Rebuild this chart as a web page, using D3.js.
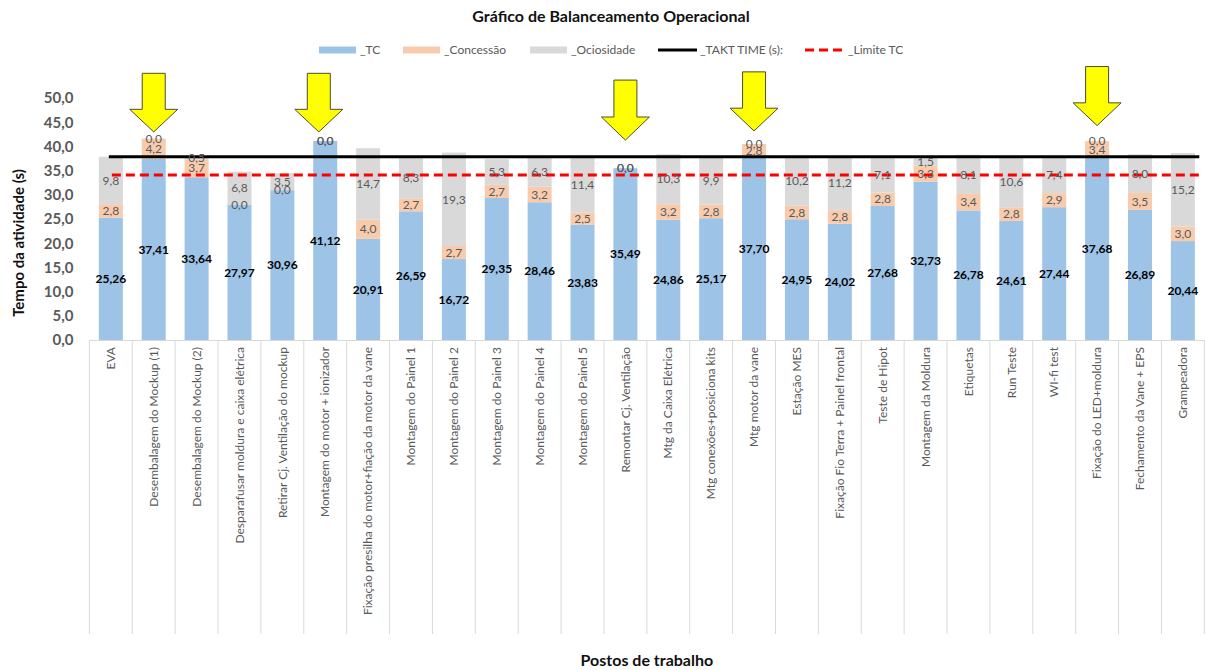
<!DOCTYPE html>
<html><head><meta charset="utf-8">
<script src="https://cdn.jsdelivr.net/npm/d3@7/dist/d3.min.js"></script>
<style>
html,body{margin:0;padding:0;background:#fff;}
svg{display:block;font-family:Lato,"Open Sans",sans-serif;}
</style></head>
<body><svg id="c" width="1206" height="670"></svg>
<script>
const stations = ["EVA","Desembalagem do Mockup (1)","Desembalagem do Mockup (2)","Desparafusar moldura e caixa elétrica","Retirar Cj. Ventilação do mockup","Montagem do motor + ionizador","Fixação presilha do motor+fiação da motor da vane","Montagem do Painel 1","Montagem do Painel 2","Montagem do Painel 3","Montagem do Painel 4","Montagem do Painel 5","Remontar Cj. Ventilação","Mtg da Caixa Elétrica","Mtg conexões+posiciona kits","Mtg motor da vane","Estação MES","Fixação Fio Terra + Painel frontal","Teste de Hipot","Montagem da Moldura","Etiquetas","Run Teste","WI-fi test","Fixação do LED+moldura","Fechamento da Vane + EPS","Grampeadora"];
const tc = [25.26,37.41,33.64,27.97,30.96,41.12,20.91,26.59,16.72,29.35,28.46,23.83,35.49,24.86,25.17,37.70,24.95,24.02,27.68,32.73,26.78,24.61,27.44,37.68,26.89,20.44];
const concessao = [2.8,4.2,3.7,0.0,0.0,0.0,4.0,2.7,2.7,2.7,3.2,2.5,0.0,3.2,2.8,2.8,2.8,2.8,2.8,3.3,3.4,2.8,2.9,3.4,3.5,3.0];
const ociosidade = [9.8,0.0,0.5,6.8,3.5,0.0,14.7,8.3,19.3,5.3,6.3,11.4,0.0,10.3,9.9,0.0,10.2,11.2,7.1,1.5,8.1,10.6,7.4,0.0,8.0,15.2];
const taktTime = 37.88;
const limiteTC = 34.09;
const yTicks = [0,5,10,15,20,25,30,35,40,45,50];
// yellow arrow annotations: station index, top value, tip value
const arrowStations = [1,5,12,15,23];
const arrowTop = [55.1,55.1,53.7,55.4,56.5];
const arrowTip = [43.0,43.0,41.3,43.2,44.3];
const arrowShift = [0,-0.15,0,0,0];

const svg = d3.select("#c");
const L = 89.4, R = 1204.3, B = 340, T = 98;
const x = d3.scaleBand().domain(stations).range([L,R]).paddingInner(0.44).paddingOuter(0.22);
const xb = d3.scaleBand().domain(stations).range([L,R]);
const y = d3.scaleLinear().domain([0,50]).range([B,T]);
const fmt = (v,d)=> v.toFixed(d).replace(".",",");

const colors = {tc:"#9DC3E6", con:"#F8CBAD", oc:"#D9D9D9"};

// title
svg.append("text").attr("x",611).attr("y",22).attr("text-anchor","middle")
  .attr("font-size",16).attr("font-weight","bold").attr("fill","#111").text("Gráfico de Balanceamento Operacional");

// legend
const lg = svg.append("g").attr("font-size",12).attr("fill","#595959");
const lgY = 50;
[[319,colors.tc,"_TC"],[403,colors.con,"_Concessão"],[530,colors.oc,"_Ociosidade"]].forEach(([lx,c,t])=>{
  lg.append("rect").attr("x",lx).attr("y",lgY-3.5).attr("width",37).attr("height",7).attr("fill",c);
  lg.append("text").attr("x",lx+41).attr("y",lgY+4).text(t);
});
lg.append("line").attr("x1",658).attr("x2",697).attr("y1",lgY).attr("y2",lgY).attr("stroke","#000").attr("stroke-width",3);
lg.append("text").attr("x",700).attr("y",lgY+4).text("_TAKT TIME (s):");
lg.append("line").attr("x1",805).attr("x2",843).attr("y1",lgY).attr("y2",lgY).attr("stroke","#FF0000").attr("stroke-width",3).attr("stroke-dasharray","9,5");
lg.append("text").attr("x",848).attr("y",lgY+4).text("_Limite TC");

// y axis labels
const ya = svg.append("g").attr("transform",`translate(${L},0)`)
  .call(d3.axisLeft(y).tickValues(yTicks).tickSize(0).tickPadding(16).tickFormat(d=>fmt(d,1)));
ya.select(".domain").remove();
ya.selectAll("text").attr("font-family","Lato,sans-serif").attr("font-size",15).attr("font-weight","bold").attr("fill","#595959");

svg.append("text").attr("transform","translate(24,243) rotate(-90)").attr("text-anchor","middle")
  .attr("font-size",15).attr("font-weight","bold").attr("fill","#111").text("Tempo da atividade (s)");

// x axis
const xa = svg.append("g").attr("transform",`translate(0,${B})`)
  .call(d3.axisBottom(xb).tickSize(0).tickPadding(0));
xa.select(".domain").attr("stroke","#D9D9D9");
xa.selectAll("text").attr("font-family","Lato,sans-serif").attr("font-size",12).attr("fill","#595959")
  .attr("transform","rotate(-90)").attr("text-anchor","end").attr("dy","0.35em").attr("x",-7).attr("y",0);
// category separators
const bounds = stations.map(s=>xb(s)).concat([R]);
svg.append("g").selectAll("line").data(bounds).join("line")
  .attr("x1",d=>d).attr("x2",d=>d).attr("y1",B).attr("y2",634).attr("stroke","#D9D9D9").attr("stroke-width",1);

svg.append("text").attr("x",(L+R)/2).attr("y",666).attr("text-anchor","middle")
  .attr("font-size",16).attr("font-weight","bold").attr("fill","#111").text("Postos de trabalho");

// stacked bars
const rows = stations.map((s,i)=>({s, tc:tc[i], con:concessao[i], oc:ociosidade[i]}));
const stack = d3.stack().keys(["tc","con","oc"])(rows);
const g = svg.append("g");
stack.forEach(layer=>{
  g.append("g").attr("fill",colors[layer.key]).selectAll("rect").data(layer).join("rect")
    .attr("x",d=>x(d.data.s)).attr("width",x.bandwidth())
    .attr("y",d=>y(d[1])).attr("height",d=>y(d[0])-y(d[1]));
});

// lines
const lineX1 = xb(stations[0]) + xb.bandwidth()/2 - 2;
svg.append("line").attr("x1",lineX1).attr("x2",R-5).attr("y1",y(taktTime)).attr("y2",y(taktTime))
  .attr("stroke","#000").attr("stroke-width",3);
svg.append("line").attr("x1",lineX1+3).attr("x2",R-3).attr("y1",y(limiteTC)).attr("y2",y(limiteTC))
  .attr("stroke","#FF0000").attr("stroke-width",3).attr("stroke-dasharray","9,5");

// labels
const lbl = svg.append("g");
stack.forEach(layer=>{
  lbl.append("g").selectAll("text").data(layer).join("text")
    .attr("x",d=>x(d.data.s)+x.bandwidth()/2)
    .attr("y",d=>y((d[0]+d[1])/2))
    .attr("dy","0.35em").attr("text-anchor","middle").attr("font-size",12)
    .attr("font-weight",layer.key==="tc"?"bold":"normal")
    .attr("fill",layer.key==="tc"?"#000":"#595959")
    .text(d=>layer.key==="tc"?fmt(d.data.tc,2):fmt(d.data[layer.key],1));
});

// arrows
const ag = svg.append("g");
arrowStations.forEach((si,k)=>{
  const cx = x(stations[si]) + x.bandwidth()/2 + arrowShift[k]*xb.bandwidth();
  const yt = y(arrowTop[k]), yp = y(arrowTip[k]);
  const headStart = yp - (yp-yt)*0.385;
  const sw = 11.5, hw = 24;
  const p = d3.path();
  p.moveTo(cx-sw,yt); p.lineTo(cx+sw,yt); p.lineTo(cx+sw,headStart); p.lineTo(cx+hw,headStart);
  p.lineTo(cx,yp); p.lineTo(cx-hw,headStart); p.lineTo(cx-sw,headStart); p.closePath();
  ag.append("path").attr("d",p.toString()).attr("fill","#FFFF00").attr("stroke","#4d4d33").attr("stroke-width",1);
});
</script></body></html>
